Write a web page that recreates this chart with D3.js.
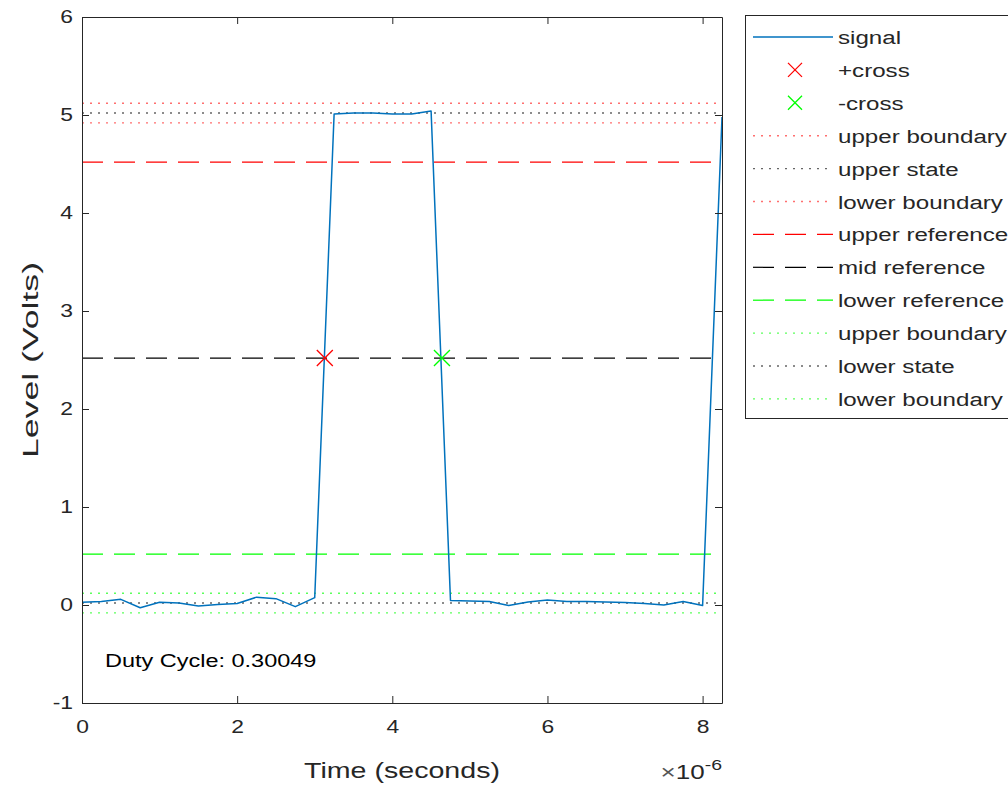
<!DOCTYPE html>
<html>
<head>
<meta charset="utf-8">
<script src="https://cdn.jsdelivr.net/npm/d3@7"></script>
<style>
html,body{margin:0;padding:0;background:#fff;}
svg{display:block;font-family:"Liberation Sans",Arial,Helvetica,sans-serif;}
</style>
</head>
<body>
<svg id="chart" width="1008" height="786"></svg>
<script>
// ---- data ----
const timeUs = [0,0.25,0.5,0.75,1.0,1.25,1.5,1.75,2.0,2.25,2.5,2.75,3.0,3.25,3.5,3.75,4.0,4.25,4.5,4.75,5.0,5.25,5.5,5.75,6.0,6.25,6.5,6.75,7.0,7.25,7.5,7.75,8.0,8.25];
const signal = [0.028,0.035,0.058,-0.028,0.028,0.02,-0.01,0.005,0.015,0.08,0.065,-0.017,0.075,
                5.01,5.02,5.02,5.01,5.01,5.04,
                0.046,0.04,0.036,-0.005,0.03,0.05,0.036,0.036,0.03,0.025,0.015,0.0,0.036,-0.005,
                4.98];
const posCrossT = [3.13];
const posCrossV = [2.52];
const negCrossT = [4.64];
const negCrossV = [2.52];
const levelNames = ["upper boundary","upper state","lower boundary","upper reference","mid reference","lower reference","upper boundary","lower state","lower boundary"];
const levelValues = [5.12,5.02,4.92,4.52,2.52,0.52,0.12,0.02,-0.08];
const xTicks = [0,2,4,6,8];
const yTicks = [-1,0,1,2,3,4,5,6];
const dutyCycle = "0.30049";

// ---- styles ----
const levelStyles = [
  {c:"#ff6f6f",d:"2,6"},{c:"#666666",d:"2,6"},{c:"#ff6f6f",d:"2,6"},
  {c:"#ff0000",d:"21,11"},{c:"#000000",d:"21,11"},{c:"#00ff00",d:"21,11"},
  {c:"#5cff5c",d:"2,6"},{c:"#666666",d:"2,6"},{c:"#5cff5c",d:"2,6"}
];
const axColor = "#262626";
const sigColor = "#0072bd";
const SX = 1.27; // horizontal text stretch seen in the reference

const svg = d3.select("#chart");
const L=82,R=722,T=17,B=703;
const x = d3.scaleLinear().domain([0,8.25]).range([L,R]);
const y = d3.scaleLinear().domain([-1,6]).range([B,T]);

svg.append("defs").append("clipPath").attr("id","clip")
  .append("rect").attr("x",L).attr("y",T).attr("width",R-L).attr("height",B-T);

const plot = svg.append("g").attr("clip-path","url(#clip)");

// level lines
plot.selectAll("line.level").data(levelValues).join("line")
  .attr("class","level")
  .attr("x1",x(timeUs[0])).attr("x2",x(timeUs[timeUs.length-1]))
  .attr("y1",d=>y(d)).attr("y2",d=>y(d))
  .attr("stroke",(d,i)=>levelStyles[i].c)
  .attr("stroke-dasharray",(d,i)=>levelStyles[i].d)
  .attr("stroke-width",(d,i)=>levelStyles[i].d==="2,6"?1.4:1.2);

// signal
const pts = timeUs.map((t,i)=>[t,signal[i]]);
plot.append("path").datum(pts)
  .attr("d",d3.line().x(d=>x(d[0])).y(d=>y(d[1])))
  .attr("fill","none").attr("stroke",sigColor).attr("stroke-width",1.5)
  .attr("stroke-linejoin","round");

function xMark(g,cx,cy,color,s){
  g.append("path").attr("d",`M${cx-s},${cy-s}L${cx+s},${cy+s}M${cx-s},${cy+s}L${cx+s},${cy-s}`)
   .attr("stroke",color).attr("stroke-width",1.3).attr("fill","none");
}
posCrossT.forEach((t,i)=>xMark(plot,x(t),y(posCrossV[i]),"#ff0000",8));
negCrossT.forEach((t,i)=>xMark(plot,x(t),y(negCrossV[i]),"#00ff00",8));

function addText(parent,tx,ty,str,size,anchor,sx,fill){
  return parent.append("text")
    .attr("transform",`translate(${tx},${ty}) scale(${sx},1)`)
    .attr("text-anchor",anchor).attr("fill",fill||axColor)
    .style("font-size",size+"px").text(str);
}

// axes
function styleAxis(g){
  g.selectAll("path.domain").attr("stroke",axColor);
  g.selectAll(".tick line").attr("stroke",axColor);
  g.selectAll(".tick text").attr("fill",axColor).style("font-size","18px");
}
const gB = svg.append("g").attr("transform",`translate(0,${B})`)
  .call(d3.axisBottom(x).tickValues(xTicks).tickFormat(d3.format("d")).tickSize(-7).tickSizeOuter(0).tickPadding(17));
styleAxis(gB);
gB.selectAll(".tick text").each(function(){
  const t=d3.select(this); const yy=+t.attr("y");
  t.attr("y",null).attr("dy","0.71em").attr("transform",`translate(0,${yy}) scale(${SX},1)`);
});
const gT = svg.append("g").attr("transform",`translate(0,${T})`)
  .call(d3.axisTop(x).tickValues(xTicks).tickFormat("").tickSize(-7).tickSizeOuter(0));
styleAxis(gT);
const gL = svg.append("g").attr("transform",`translate(${L},0)`)
  .call(d3.axisLeft(y).tickValues(yTicks).tickFormat(d=>d<0?"-"+Math.abs(d):String(d)).tickSize(-7).tickSizeOuter(0).tickPadding(9));
styleAxis(gL);
gL.selectAll(".tick text").each(function(){
  const t=d3.select(this); const xx=+t.attr("x");
  t.attr("x",null).attr("transform",`translate(${xx},0) scale(${SX},1)`);
});
const gR = svg.append("g").attr("transform",`translate(${R},0)`)
  .call(d3.axisRight(y).tickValues(yTicks).tickFormat("").tickSize(-7).tickSizeOuter(0));
styleAxis(gR);

// labels
addText(svg,(L+R)/2,778,"Time (seconds)",22,"middle",1.3);
svg.append("text").attr("transform",`translate(38,${(T+B)/2}) rotate(-90) scale(1.62,1)`).attr("text-anchor","middle")
  .attr("fill",axColor).style("font-size","22px").text("Level (Volts)");
const exp = svg.append("text").attr("transform",`translate(${R},779) scale(1.3,1)`).attr("text-anchor","end")
  .attr("fill",axColor).style("font-size","20px");
exp.append("tspan").style("font-size","20px").attr("fill","#555").text("×");
exp.append("tspan").text("10");
exp.append("tspan").attr("dy",-9).style("font-size","15px").text("-6");

addText(svg,105,667,"Duty Cycle: " + dutyCycle,18.5,"start",1.27,"#000");

// legend
const lg = svg.append("g");
lg.append("rect").attr("x",745.5).attr("y",15.5).attr("width",300).attr("height",403)
  .attr("fill","#fff").attr("stroke",axColor).attr("stroke-width",1);
const legendItems = [{name:"signal",type:"sig"},{name:"+cross",type:"pos"},{name:"-cross",type:"neg"}]
  .concat(levelNames.map((n,i)=>({name:n,type:"lvl",i})));
const rowY = i => 37 + i*32.9;
legendItems.forEach((it,i)=>{
  const yy = rowY(i);
  if(it.type==="sig"){
    lg.append("line").attr("x1",753).attr("x2",833).attr("y1",yy).attr("y2",yy).attr("stroke",sigColor).attr("stroke-width",1.5);
  } else if(it.type==="pos"){ xMark(lg,795,yy,"#ff0000",7); }
  else if(it.type==="neg"){ xMark(lg,795,yy,"#00ff00",7); }
  else {
    const st = levelStyles[it.i];
    lg.append("line").attr("x1",753).attr("x2",833).attr("y1",yy).attr("y2",yy)
      .attr("stroke",st.c).attr("stroke-dasharray",st.d).attr("stroke-width",st.d==="2,6"?1.4:1.2);
  }
  addText(lg,838,yy+7,it.name,19,"start",1.27);
});
</script>
</body>
</html>
